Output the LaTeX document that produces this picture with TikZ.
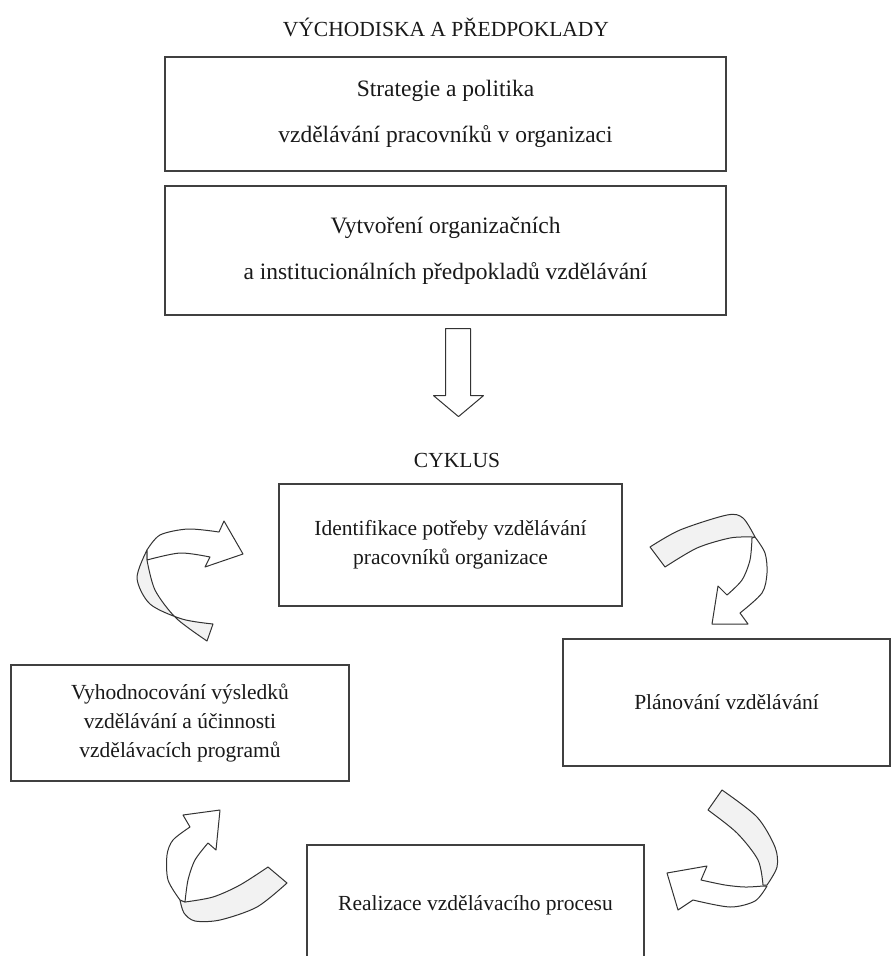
\documentclass[tikz,border=0pt]{standalone}
\usepackage{fontspec}
\setmainfont{Liberation Serif}
\begin{document}
\begin{tikzpicture}[x=1pt, y=-1pt,
  heading/.style={font=\fontsize{21.5}{26}\selectfont, text=black!90},
  box/.style={draw=black!75, line width=1.2pt, inner sep=0pt, align=center, text=black!90},
  upperbox/.style={box, minimum width=561pt, font=\fontsize{23.5}{46}\selectfont},
  cyclebox/.style={box, font=\fontsize{21.5}{29}\selectfont},
  ribbon/.style={draw=black!80, line width=1pt, line join=round},
  ribbonback/.style={ribbon, fill=black!5},
  ribbonfront/.style={ribbon, fill=white}]
  \useasboundingbox (0,0) rectangle (892,956);
  \clip (0,0) rectangle (892,956);
  % Headings
  \node[heading] (head) at (446,27) {VÝCHODISKA A PŘEDPOKLADY};
  \node[heading] (cyc) at (457,460) {CYKLUS};
  % Upper boxes
  \node[upperbox, minimum height=114pt] (strat) at (445.5,114)
    {Strategie a politika\\vzdělávání pracovníků v organizaci};
  \node[upperbox, minimum height=129pt] (prep) at (445.5,250.5)
    {Vytvoření organizačních\\a institucionálních předpokladů vzdělávání};
  % Block arrow down
  \draw[ribbon] ([yshift=-13pt]prep.south) -- ++(0,67) -- ++(-12,0) -- ++(25,21)
    -- ++(25,-21) -- ++(-13,0) -- ++(0,-67) -- cycle;
  % Cycle boxes
  \node[cyclebox, minimum width=343pt, minimum height=122pt] (ident) at (450.5,545)
    {Identifikace potřeby vzdělávání\\pracovníků organizace};
  \node[cyclebox, minimum width=327pt, minimum height=127pt] (plan) at (726.5,702.5)
    {Plánování vzdělávání};
  \node[cyclebox, minimum width=337pt, minimum height=120pt] (real) at (475.5,905)
    {Realizace vzdělávacího procesu};
  \node[cyclebox, minimum width=338pt, minimum height=116pt] (eval) at (180,723)
    {Vyhodnocování výsledků\\vzdělávání a účinnosti\\vzdělávacích programů};
  % Ribbon: ident -> plan
  \draw[ribbonback] plot[smooth] coordinates {(650,547) (680,530) (727,515) (743,518) (755,537)}
    -- plot[smooth] coordinates {(752,537) (730,538) (697,548) (665,567)} -- cycle;
  \draw[ribbonfront] plot[smooth] coordinates {(755,537) (765,553) (767,573) (762,593) (740,613)}
    -- (748,624) -- (712,624) -- (718,586)
    -- plot[smooth] coordinates {(727,595) (742,580) (750,560) (752,538)} -- cycle;
  % Ribbon: plan -> real
  \draw[ribbonback] plot[smooth] coordinates {(722,790) (757,817) (775,847) (777,867) (767,885)}
    -- plot[smooth] coordinates {(763,885) (758,860) (737,833) (708,810)} -- cycle;
  \draw[ribbonfront] plot[smooth] coordinates {(763,886) (745,887) (725,885) (701,880)}
    -- (707,866) -- (667,873) -- (678,910)
    -- plot[smooth] coordinates {(693,900) (730,907) (755,901) (767,886)} -- cycle;
  % Ribbon: real -> eval
  \draw[ribbonback] plot[smooth] coordinates {(268,867) (240,885) (213,897) (185,902)}
    -- plot[smooth] coordinates {(180,900) (184,913) (195,921) (220,920) (257,907) (287,883)} -- cycle;
  \draw[ribbonfront] plot[smooth] coordinates {(180,900) (168,880) (167,855) (173,840) (190,827)}
    -- (183,815) -- (220,810) -- (216,850)
    -- plot[smooth] coordinates {(208,843) (195,860) (188,880) (185,902)} -- cycle;
  % Ribbon: eval -> ident
  \draw[ribbonback] plot[smooth] coordinates {(147,550) (137,578) (150,604) (182,619) (213,624)}
    -- plot[smooth] coordinates {(207,641) (176,618) (155,590) (147,560)} -- cycle;
  \draw[ribbonfront] plot[smooth] coordinates {(147,550) (160,535) (188,529) (219,532)}
    -- (224,521) -- (243,554) -- (205,567)
    -- plot[smooth] coordinates {(210,557) (180,553) (147,560)} -- cycle;
\end{tikzpicture}
\end{document}
